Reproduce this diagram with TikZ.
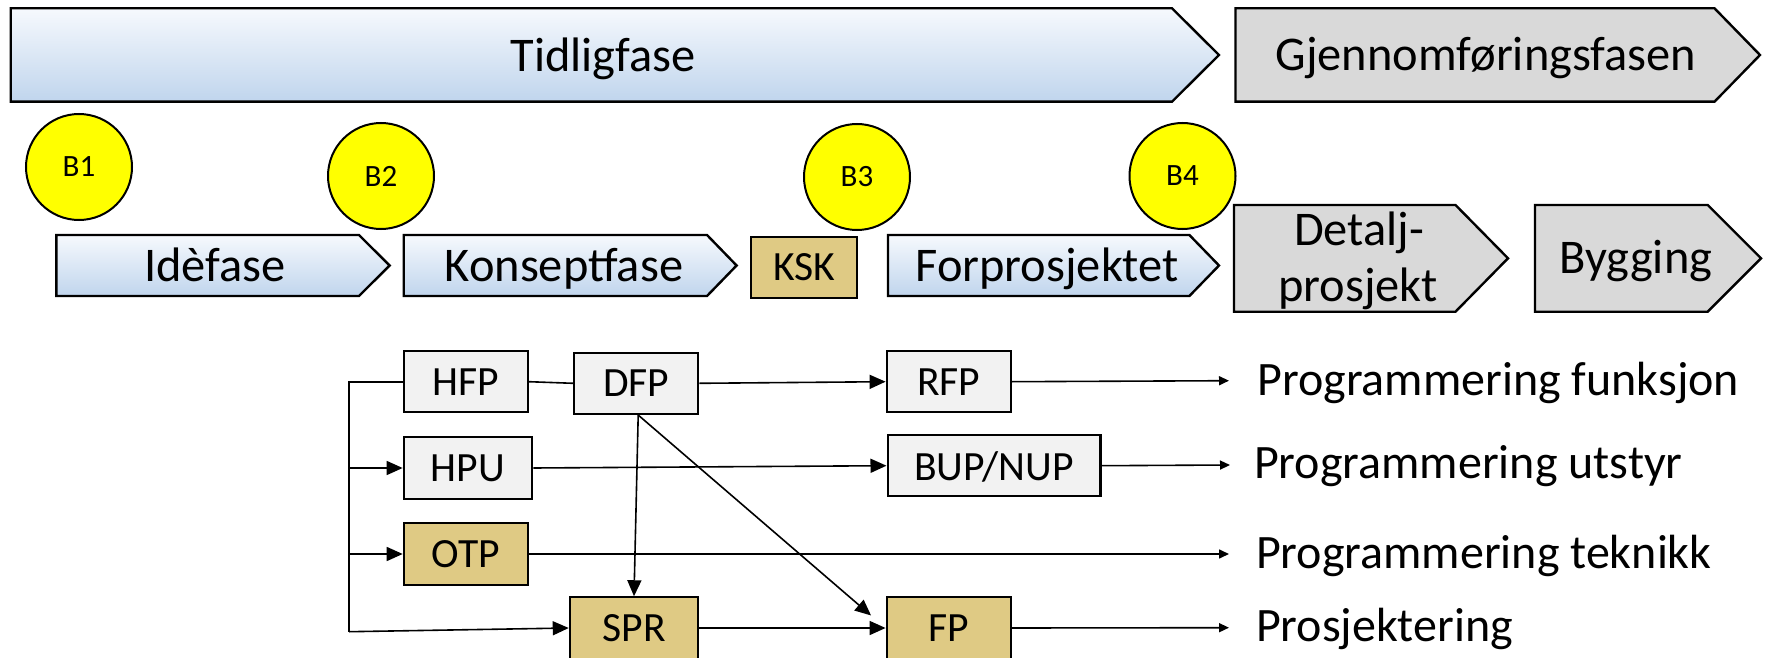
\documentclass[tikz,border=0pt]{standalone}
\usepackage{fontspec}
\setmainfont{Carlito}
\usetikzlibrary{arrows.meta}
\definecolor{bluetop}{HTML}{F6F9FD}
\definecolor{bluebot}{HTML}{C0D5ED}
\definecolor{greyfill}{HTML}{D9D9D9}
\definecolor{boxgrey}{HTML}{F2F2F2}
\definecolor{tanfill}{HTML}{DFCA84}
\definecolor{ylw}{HTML}{FFFF00}
\begin{document}
\begin{tikzpicture}[x=0.5pt,y=-0.5pt,
  bluechev/.style={draw=black, line width=1.2pt, top color=bluetop, bottom color=bluebot},
  greychev/.style={draw=black, line width=1.2pt, fill=greyfill},
  chevtext/.style={inner sep=0pt, anchor=base, font=\fontsize{24.2}{29}\selectfont},
  box/.style={draw=black, line width=1.1pt, fill=boxgrey, minimum height=30.65pt,
    inner sep=0pt, text depth=0pt, font=\fontsize{20.8}{24}\selectfont},
  tanbox/.style={box, fill=tanfill},
  bcirc/.style={circle, draw=black, line width=1pt, fill=ylw, minimum size=53pt,
    inner sep=0pt, font=\fontsize{15.5}{18}\selectfont},
  conn/.style={line width=0.8pt, -{Triangle[length=8pt,width=7pt]}},
  plain/.style={line width=0.8pt},
  labarrow/.style={line width=0.8pt, -{Triangle[length=5pt,width=4.5pt]}},
  lab/.style={inner sep=0pt, anchor=base west, font=\fontsize{24}{29}\selectfont}
]
\useasboundingbox (0,0) rectangle (1768,658);

% top phase chevrons
\draw[bluechev] (10.7,8.3) -- (1172,8.3) -- (1219,55) -- (1172,101.7) -- (10.7,101.7) -- cycle;
\node[chevtext] (tid) at (603,71.7) {Tidligfase};
\draw[greychev] (1235.5,8.3) -- (1714.5,8.3) -- (1760,55) -- (1714.5,101.7) -- (1235.5,101.7) -- cycle;
\node[chevtext] (gjen) at (1486,70.7) {Gjennomføringsfasen};

% sub-phase chevrons
\draw[bluechev] (56.3,235) -- (359,235) -- (389.6,265.5) -- (359,296) -- (56.3,296) -- cycle;
\node[chevtext] (ide) at (215,281.7) {Idèfase};
\draw[bluechev] (403.7,235) -- (707,235) -- (736.6,265.5) -- (707,296) -- (403.7,296) -- cycle;
\node[chevtext] (kon) at (564,281.7) {Konseptfase};
\draw[bluechev] (888,235) -- (1189.4,235) -- (1219,265.5) -- (1189.4,296) -- (888,296) -- cycle;
\node[chevtext] (forp) at (1047,281.7) {Forprosjektet};
\draw[greychev] (1234,205) -- (1455.5,205) -- (1508,258.3) -- (1455.5,311.7) -- (1234,311.7) -- cycle;
\node[chevtext] (det1) at (1359,245) {Detalj-};
\node[chevtext] (det2) at (1358,301.7) {prosjekt};
\draw[greychev] (1535,205) -- (1707.7,205) -- (1761,258.3) -- (1707.7,311.7) -- (1535,311.7) -- cycle;
\node[chevtext] (byg) at (1636,273) {Bygging};

\node[tanbox, minimum width=53pt] (KSK) at (804,267.5) {KSK};

% decision gates
\node[bcirc] (B1) at (79,167) {B1};
\node[bcirc] (B2) at (381,176) {B2};
\node[bcirc] (B3) at (857,177) {B3};
\node[bcirc] (B4) at (1182.5,176) {B4};

% boxes
\node[box, minimum width=62pt] (HFP) at (465.8,381.7) {HFP};
\node[box, minimum width=62pt] (DFP) at (636.2,383.3) {DFP};
\node[box, minimum width=62pt] (RFP) at (948.7,381.7) {RFP};
\node[box, minimum width=64.25pt] (HPU) at (468,468) {HPU};
\node[box, minimum width=106.4pt] (BUP) at (994,465.7) {BUP/NUP};
\node[tanbox, minimum width=62pt] (OTP) at (465.8,554) {OTP};
\node[tanbox, minimum width=64.15pt] (SPR) at (634,628) {SPR};
\node[tanbox, minimum width=62pt] (FP) at (948.7,628) {FP};

% labels
\node[lab] (l1) at (1257,395) {Programmering funksjon};
\node[lab] (l2) at (1253.7,478.3) {Programmering utstyr};
\node[lab] (l3) at (1255.6,568.3) {Programmering teknikk};
\node[lab] (l4) at (1255.6,641.7) {Prosjektering};
\coordinate (t1) at (1229,380.7);
\coordinate (t2) at (1230,465);
\coordinate (t3) at (1229,554);
\coordinate (t4) at (1229,627.7);

% bus on the left
\coordinate (busTop) at (349.2,381.7);
\coordinate (busBot) at (349.2,631.7);
\draw[plain] (HFP.west) -- (busTop) -- (busBot);
\draw[conn] (busBot) -- (SPR.west);
\draw[conn] (busTop |- HPU.west) -- (HPU.west);
\draw[conn] (busTop |- OTP.west) -- (OTP.west);

% connectors
\draw[plain] (HFP.east) -- (DFP.west);
\draw[conn] (DFP.east) -- (RFP.west);
\draw[conn] (HPU.east) -- (BUP.west);
\draw[conn] (SPR.east) -- (FP.west);
\draw[conn] ([xshift=1pt]DFP.south) -- (SPR.north);
\draw[conn, shorten >=9.6pt] ([xshift=1pt]DFP.south) -- (FP.west);
\draw[labarrow] (RFP.east) -- (t1);
\draw[labarrow] (BUP.east) -- (t2);
\draw[labarrow] (OTP.east) -- (t3);
\draw[labarrow] (FP.east) -- (t4);
\end{tikzpicture}
\end{document}
